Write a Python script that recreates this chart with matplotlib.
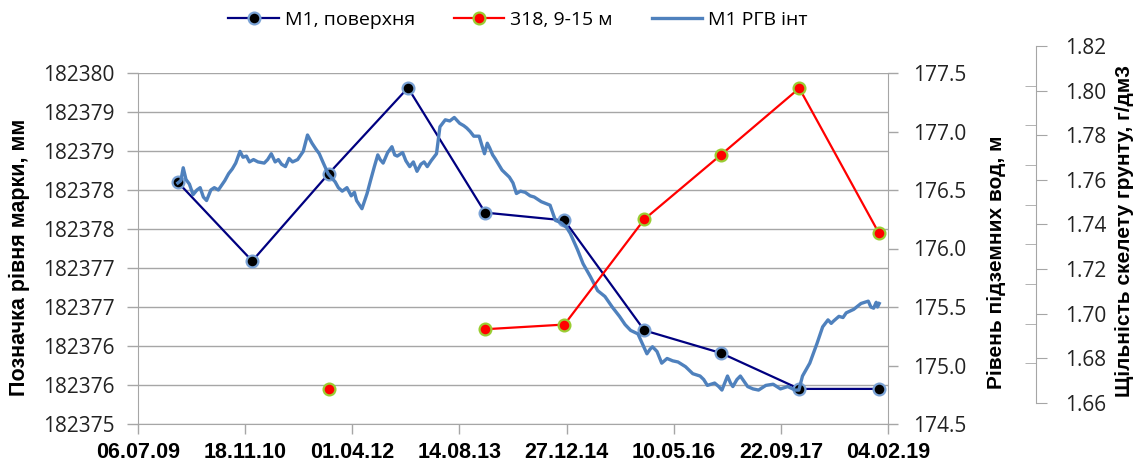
import numpy as np
import pandas as pd
import matplotlib
matplotlib.use("Agg")
import matplotlib.pyplot as plt
import matplotlib.dates as mdates
from matplotlib.ticker import MultipleLocator, FixedLocator, FuncFormatter
from matplotlib.lines import Line2D

# ---- data ----
x_start = "2009-07-06"
x_end = "2019-02-04"

m1_dates = ["2010-01-08", "2010-12-21", "2011-12-13", "2012-12-17", "2013-12-12",
            "2014-12-17", "2015-12-25", "2016-12-16", "2017-12-17", "2018-12-24"]
m1_level = [182378.10, 182377.09, 182378.21, 182379.31, 182377.71,
            182377.61, 182376.20, 182375.91, 182375.45, 182375.45]

w318_dates = ["2011-12-13", "2012-12-17", "2013-12-12", "2014-12-17",
              "2015-12-25", "2016-12-16", "2017-12-17", "2018-12-24"]
w318_level = [174.80, np.nan, 175.31, 175.35, 176.25, 176.80, 177.37, 176.13]

# groundwater interpolation, days since x_start
rgv_days = [186, 200, 211, 224, 240, 257, 275, 290, 305, 320,
            340, 356, 375, 390, 405, 423, 440, 456, 476, 490,
            506, 520, 539, 560, 589, 605, 622, 640, 655, 670,
            688, 705, 721, 745, 771, 791, 812, 830, 846, 865,
            887, 905, 920, 935, 953, 975, 995, 1010, 1020, 1045,
            1069, 1085, 1103, 1119, 1130, 1144, 1165, 1185, 1198, 1210,
            1235, 1250, 1268, 1285, 1302, 1320, 1335, 1350, 1368, 1393,
            1409, 1434, 1455, 1476, 1501, 1520, 1534, 1550, 1567, 1592,
            1605, 1617, 1630, 1641, 1655, 1666, 1699, 1733, 1750, 1766,
            1785, 1807, 1830, 1849, 1882, 1923, 1948, 1975, 2000, 2017,
            2051, 2077, 2111, 2145, 2179, 2213, 2247, 2273, 2299, 2333,
            2358, 2375, 2390, 2401, 2422, 2444, 2469, 2495, 2520, 2555,
            2589, 2623, 2640, 2657, 2691, 2710, 2725, 2740, 2751, 2765,
            2776, 2795, 2811, 2830, 2845, 2870, 2896, 2930, 2964, 2998,
            3032, 3067, 3084, 3101, 3135, 3169, 3195, 3220, 3235, 3246,
            3271, 3290, 3305, 3340, 3374, 3408, 3420, 3433, 3445, 3451,
            3459]
rgv_level = [176.56, 176.58, 176.69, 176.59, 176.55, 176.46, 176.50, 176.52, 176.44, 176.41,
             176.50, 176.52, 176.50, 176.54, 176.58, 176.64, 176.68, 176.73, 176.83, 176.78,
             176.79, 176.74, 176.76, 176.74, 176.73, 176.76, 176.81, 176.74, 176.76, 176.72,
             176.70, 176.77, 176.74, 176.76, 176.83, 176.97, 176.90, 176.85, 176.81, 176.73,
             176.64, 176.60, 176.57, 176.52, 176.49, 176.52, 176.45, 176.48, 176.41, 176.34,
             176.47, 176.58, 176.70, 176.80, 176.76, 176.73, 176.82, 176.87, 176.80, 176.79,
             176.82, 176.75, 176.70, 176.74, 176.66, 176.72, 176.74, 176.70, 176.75, 176.81,
             177.04, 177.10, 177.09, 177.12, 177.07, 177.05, 177.03, 177.00, 176.96, 176.96,
             176.88, 176.81, 176.90, 176.86, 176.80, 176.77, 176.67, 176.61, 176.56, 176.47,
             176.49, 176.48, 176.45, 176.44, 176.40, 176.37, 176.24, 176.22, 176.18, 176.13,
             175.99, 175.87, 175.76, 175.64, 175.59, 175.50, 175.42, 175.35, 175.30, 175.27,
             175.17, 175.10, 175.14, 175.16, 175.12, 175.02, 175.06, 175.04, 175.03, 174.99,
             174.93, 174.91, 174.88, 174.83, 174.85, 174.82, 174.79, 174.86, 174.91, 174.85,
             174.82, 174.88, 174.91, 174.86, 174.82, 174.80, 174.79, 174.83, 174.84, 174.80,
             174.82, 174.79, 174.79, 174.91, 175.02, 175.19, 175.33, 175.39, 175.36, 175.38,
             175.42, 175.41, 175.45, 175.48, 175.53, 175.55, 175.50, 175.49, 175.54, 175.50,
             175.53]

m1_x = pd.to_datetime(m1_dates)
w318_x = pd.to_datetime(w318_dates)
rgv_x = pd.Timestamp(x_start) + pd.to_timedelta(rgv_days, unit="D")

# ---- fonts / colours ----
tick_font = ["Open Sans", "DejaVu Sans"]
date_font = ["Liberation Sans", "DejaVu Sans"]
title_font = ["Liberation Sans", "DejaVu Sans"]
grey = "#A6A6A6"

W, H = 1137, 466
fig = plt.figure(figsize=(W / 100, H / 100), dpi=100)
ax = fig.add_axes([138 / W, (H - 424) / H, 750 / W, 351 / H])
ax2 = ax.twinx()

# left axis: M1 surface mark
ax.plot(m1_x, m1_level, color="#000080", lw=1.6, marker="o", ms=8.5,
        mfc="black", mec="#7BA3D6", mew=1.6, zorder=3)
ax.set_ylim(182375, 182379.5)
ax.yaxis.set_major_locator(MultipleLocator(0.5))
ax.yaxis.set_major_formatter(FuncFormatter(lambda v, p: "%d" % np.floor(v + 0.5)))
ax.grid(axis="y", color=grey, lw=1)
ax.set_axisbelow(True)

# right axis: groundwater
ax2.plot(rgv_x, rgv_level, color="#4F81BD", lw=2.4, zorder=2)
ax2.plot(w318_x, w318_level, color="#FF0000", lw=1.6, marker="o", ms=8.5,
         mfc="#FF0000", mec="#9ACD32", mew=1.6, zorder=3)
ax2.set_ylim(174.5, 177.5)
ax2.yaxis.set_major_locator(MultipleLocator(0.5))
ax2.yaxis.set_major_formatter(FuncFormatter(lambda v, p: "%.1f" % v))

ax.set_xlim(pd.Timestamp(x_start), pd.Timestamp(x_end))
xt = pd.date_range(x_start, x_end, freq="500D")
ax.set_xticks(xt)
ax.xaxis.set_major_formatter(mdates.DateFormatter("%d.%m.%y"))

for a in (ax, ax2):
    a.spines["top"].set_visible(False)
    for s in ("left", "right", "bottom"):
        a.spines[s].set_color(grey)
ax.spines["right"].set_visible(False)
ax2.spines["left"].set_visible(False)
ax2.spines["bottom"].set_visible(False)

ax.tick_params(axis="y", length=8, width=1, color=grey, pad=9, labelsize=15, labelcolor="#222222")
ax.tick_params(axis="x", length=7, width=1, color=grey, pad=6)
ax2.tick_params(axis="y", length=7, width=1, color=grey, pad=11, labelsize=15, labelcolor="#222222")
for lab in ax.get_yticklabels() + ax2.get_yticklabels():
    lab.set_family(tick_font)
for lab in ax.get_xticklabels():
    lab.set_family(date_font)
    lab.set_fontsize(15.5)
    lab.set_fontweight("bold")

# third (empty) axis: soil density
ax3 = fig.add_axes([1035 / W - 0.0005, (H - 403) / H, 0.001, 357 / H])
ax3.set_ylim(1.66, 1.82)
ax3.set_xticks([])
for s in ("top", "bottom", "left"):
    ax3.spines[s].set_visible(False)
ax3.spines["right"].set_color(grey)
ax3.patch.set_visible(False)
ax3.yaxis.tick_right()
ax3.yaxis.set_major_locator(MultipleLocator(0.02))
ax3.yaxis.set_minor_locator(FixedLocator(np.linspace(1.66, 1.82, 10)))
ax3.yaxis.set_major_formatter(FuncFormatter(lambda v, p: "%.2f" % v))
ax3.tick_params(axis="y", which="major", direction="out", length=8, color=grey,
                pad=13, labelsize=15, labelcolor="#222222")
ax3.tick_params(axis="y", which="minor", direction="in", length=8, color=grey)
for lab in ax3.get_yticklabels():
    lab.set_family(tick_font)

# axis titles
fig.text(19 / W, 1 - 257 / H, "Позначка рівня марки, мм", rotation=90, ha="center",
         va="center", fontsize=15.5, fontweight="bold", family=title_font)
fig.text(996 / W, 1 - 262 / H, "Рівень підземних вод, м", rotation=90, ha="center",
         va="center", fontsize=15, fontweight="bold", family=title_font)
fig.text(1124 / W, 1 - 231 / H, "Щільність скелету грунту, г/дм3", rotation=90, ha="center",
         va="center", fontsize=15, fontweight="bold", family=title_font)

# legend
handles = [
    Line2D([], [], color="#000080", lw=1.6, marker="o", ms=8.5, mfc="black", mec="#7BA3D6", mew=1.6),
    Line2D([], [], color="#FF0000", lw=1.6, marker="o", ms=8.5, mfc="#FF0000", mec="#9ACD32", mew=1.6),
    Line2D([], [], color="#4F81BD", lw=2.4),
]
labels = ["М1, поверхня", "318, 9-15 м", "М1 РГВ інт"]
fig.legend(handles, labels, loc="center", bbox_to_anchor=(518 / W, 1 - 20 / H), ncol=3,
           frameon=False, prop={"family": tick_font, "size": 14}, handlelength=2.6,
           handletextpad=0.3, columnspacing=2.0)

fig.savefig("out.png", dpi=100)
